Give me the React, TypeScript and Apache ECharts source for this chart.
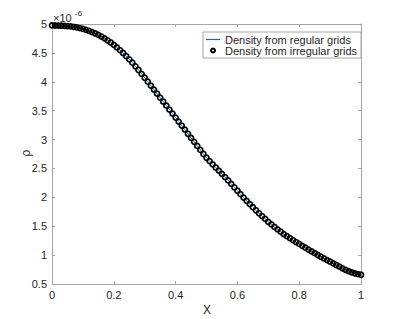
import React, { useEffect, useRef } from "react";
import * as echarts from "echarts";

const xValues: number[] = [
  0.0, 0.01, 0.02, 0.03, 0.04, 0.05, 0.06, 0.07, 0.08, 0.09,
  0.1, 0.11, 0.12, 0.13, 0.14, 0.15, 0.16, 0.17, 0.18, 0.19,
  0.2, 0.21, 0.22, 0.23, 0.24, 0.25, 0.26, 0.27, 0.28, 0.29,
  0.3, 0.31, 0.32, 0.33, 0.34, 0.35, 0.36, 0.37, 0.38, 0.39,
  0.4, 0.41, 0.42, 0.43, 0.44, 0.45, 0.46, 0.47, 0.48, 0.49,
  0.5, 0.51, 0.52, 0.53, 0.54, 0.55, 0.56, 0.57, 0.58, 0.59,
  0.6, 0.61, 0.62, 0.63, 0.64, 0.65, 0.66, 0.67, 0.68, 0.69,
  0.7, 0.71, 0.72, 0.73, 0.74, 0.75, 0.76, 0.77, 0.78, 0.79,
  0.8, 0.81, 0.82, 0.83, 0.84, 0.85, 0.86, 0.87, 0.88, 0.89,
  0.9, 0.91, 0.92, 0.93, 0.94, 0.95, 0.96, 0.97, 0.98, 0.99, 1.0,
];

// density values (x 1e-6)
const densityRegular: number[] = [
  4.975, 4.974, 4.972, 4.97, 4.967, 4.963, 4.958, 4.95, 4.94, 4.928,
  4.914, 4.898, 4.88, 4.859, 4.836, 4.811, 4.783, 4.752, 4.718, 4.68,
  4.639, 4.595, 4.548, 4.498, 4.445, 4.389, 4.33, 4.268, 4.204, 4.138,
  4.07, 4.001, 3.932, 3.863, 3.794, 3.725, 3.656, 3.587, 3.518, 3.449,
  3.38, 3.311, 3.242, 3.173, 3.1, 3.03, 2.96, 2.89, 2.82, 2.75,
  2.685, 2.627, 2.571, 2.516, 2.462, 2.405, 2.35, 2.293, 2.234, 2.174,
  2.114, 2.055, 1.996, 1.939, 1.883, 1.829, 1.776, 1.724, 1.675, 1.628,
  1.575, 1.532, 1.488, 1.446, 1.406, 1.362, 1.327, 1.293, 1.259, 1.226,
  1.193, 1.16, 1.128, 1.096, 1.064, 1.033, 1.002, 0.972, 0.943, 0.914,
  0.886, 0.858, 0.829, 0.8, 0.772, 0.746, 0.722, 0.701, 0.684, 0.67, 0.66,
];

const densityIrregular: number[] = densityRegular.slice();

const xTicks = { min: 0, max: 1, interval: 0.2 };
const yTicks = { min: 0.5, max: 5, interval: 0.5 };

const seriesNames = ["Density from regular grids", "Density from irregular grids"];

const TEXT = "#262626";
const AXIS = "#a6a6a6";
const BLUE = "#0072BD";
const FONT = "'Liberation Sans', Arial, Helvetica, sans-serif";

export default function App() {
  const ref = useRef<HTMLDivElement>(null);
  useEffect(() => {
    if (!ref.current) return;
    const chart = echarts.init(ref.current, null, { renderer: "svg" });
    const lineData = xValues.map((x, i) => [x, densityRegular[i]]);
    const scatterData = xValues.map((x, i) => [x, densityIrregular[i]]);
    const fmt = (v: number) => String(Math.round(v * 10) / 10);
    const axisCommon = {
      axisLine: { show: true, onZero: false, lineStyle: { color: AXIS, width: 1 } },
      axisTick: { show: true, inside: true, length: 3, lineStyle: { color: AXIS } },
      splitLine: { show: false },
    };
    chart.setOption({
      animation: false,
      backgroundColor: "#ffffff",
      textStyle: { fontFamily: FONT },
      grid: { left: 52, top: 24, width: 309, height: 260, containLabel: false },
      xAxis: [
        {
          type: "value",
          position: "bottom",
          ...xTicks,
          ...axisCommon,
          axisLabel: { color: TEXT, fontSize: 11, margin: 5, fontFamily: FONT, formatter: fmt },
        },
        {
          type: "value",
          position: "top",
          ...xTicks,
          ...axisCommon,
          axisLabel: { show: false },
        },
      ],
      yAxis: [
        {
          type: "value",
          position: "left",
          ...yTicks,
          ...axisCommon,
          axisLabel: { color: TEXT, fontSize: 11, margin: 5, fontFamily: FONT, formatter: fmt },
        },
        {
          type: "value",
          position: "right",
          ...yTicks,
          ...axisCommon,
          axisLabel: { show: false },
        },
      ],
      legend: {
        orient: "vertical",
        left: 203,
        top: 32,
        padding: [2, 4, 2, 3],
        itemGap: 0,
        itemWidth: 14,
        itemHeight: 4,
        backgroundColor: "#ffffff",
        borderColor: "#a6a6a6",
        borderWidth: 1,
        borderRadius: 0,
        textStyle: { color: TEXT, fontSize: 11, fontFamily: FONT },
        data: [
          {
            name: seriesNames[0],
            icon: "path://M0,0H14V1.2H0Z",
            itemStyle: { color: BLUE, borderWidth: 0 },
          },
          { name: seriesNames[1], icon: "circle" },
        ],
      },
      series: [
        {
          name: seriesNames[0],
          type: "line",
          data: lineData,
          symbol: "none",
          lineStyle: { color: BLUE, width: 1 },
          itemStyle: { color: BLUE },
          z: 2,
        },
        {
          name: seriesNames[1],
          type: "scatter",
          data: scatterData,
          symbol: "circle",
          symbolSize: 5,
          itemStyle: { color: "rgba(0,0,0,0)", borderColor: "#000000", borderWidth: 1.7, opacity: 1 },
          z: 3,
        },
      ],
      graphic: [
        {
          type: "text",
          left: 53,
          top: 12,
          style: { text: "×10", fill: TEXT, font: `11px ${FONT}` },
        },
        {
          type: "text",
          left: 75,
          top: 9,
          style: { text: "-6", fill: TEXT, font: `8px ${FONT}` },
        },
        {
          type: "text",
          x: 26,
          y: 153,
          rotation: Math.PI / 2,
          style: { text: "ρ", fill: TEXT, font: `12px ${FONT}`, align: "center", verticalAlign: "middle" },
        },
        {
          type: "text",
          x: 207,
          y: 310,
          style: { text: "X", fill: TEXT, font: `12px ${FONT}`, align: "center", verticalAlign: "middle" },
        },
      ],
    });
    return () => chart.dispose();
  }, []);
  return (
    <div
      ref={ref}
      style={{ position: "absolute", left: 0, top: 0, width: 399, height: 319 }}
    />
  );
}
